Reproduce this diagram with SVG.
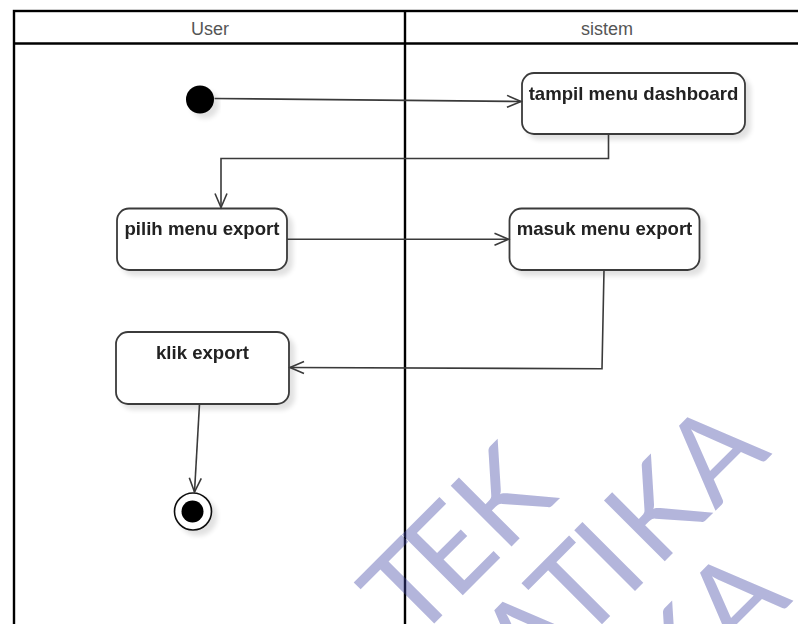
<svg xmlns="http://www.w3.org/2000/svg" width="798" height="624" viewBox="0 0 798 624">
  <defs>
    <style>
      .lane { fill: none; stroke: #000; stroke-width: 2.4; }
      .lane-title { font-family: "Liberation Sans", Arial, sans-serif; font-size: 18px; fill: #555; text-anchor: middle; }
      .action rect { fill: #fff; stroke: #3a3a3a; stroke-width: 1.8; }
      .action text { font-family: "Liberation Sans", Arial, sans-serif; font-size: 18.6px; font-weight: bold; fill: #222; text-anchor: middle; }
      .flow { fill: none; stroke: #3a3a3a; stroke-width: 1.6; marker-end: url(#open-arrow); }
      .mark { font-family: Lato, "Liberation Sans", sans-serif; font-size: 120px; fill: #4146a5; fill-opacity: 0.4; text-anchor: middle; }
    </style>
    <marker id="open-arrow" markerUnits="userSpaceOnUse" markerWidth="18" markerHeight="16" refX="15" refY="8" orient="auto">
      <path d="M1,2 L15,8 L1,14" fill="none" stroke="#3a3a3a" stroke-width="1.6"/>
    </marker>
    <filter id="shadow" x="-15%" y="-15%" width="140%" height="150%">
      <feGaussianBlur in="SourceAlpha" stdDeviation="2.5"/>
      <feOffset dx="5" dy="5" result="off"/>
      <feComponentTransfer><feFuncA type="linear" slope="0.12"/></feComponentTransfer>
      <feMerge><feMergeNode/><feMergeNode in="SourceGraphic"/></feMerge>
    </filter>
  </defs>

  <rect width="798" height="624" fill="#fff"/>

  <!-- swimlanes -->
  <g id="lanes">
    <rect class="lane" x="14" y="11" width="900" height="700"/>
    <line class="lane" x1="14" y1="43.5" x2="900" y2="43.5"/>
    <line class="lane" x1="405" y1="11" x2="405" y2="700"/>
    <text class="lane-title" x="210" y="35">User</text>
    <text class="lane-title" x="607" y="35">sistem</text>
  </g>

  <!-- start -->
  <g id="start" filter="url(#shadow)">
    <circle cx="200" cy="99.5" r="14" fill="#000"/>
  </g>

  <g id="tampil-menu-dashboard" class="action" filter="url(#shadow)">
    <rect x="522" y="73" width="223" height="61" rx="12"/>
    <text x="633.5" y="99.5">tampil menu dashboard</text>
  </g>

  <g id="pilih-menu-export" class="action" filter="url(#shadow)">
    <rect x="117" y="208.5" width="170" height="61.5" rx="12"/>
    <text x="202" y="235">pilih menu export</text>
  </g>

  <g id="masuk-menu-export" class="action" filter="url(#shadow)">
    <rect x="509.5" y="208.5" width="190" height="61.5" rx="12"/>
    <text x="604.5" y="235">masuk menu export</text>
  </g>

  <g id="klik-export" class="action" filter="url(#shadow)">
    <rect x="116" y="332" width="173" height="72" rx="12"/>
    <text x="202.5" y="358.5">klik export</text>
  </g>

  <!-- end -->
  <g id="end" filter="url(#shadow)">
    <circle cx="193" cy="511.5" r="18.5" fill="#fff" stroke="#111" stroke-width="1.6"/>
    <circle cx="192.5" cy="511.5" r="11" fill="#000"/>
  </g>

  <!-- control flows -->
  <g id="connectors">
    <path class="flow" d="M214.5,98.5 L521,101.5"/>
    <path class="flow" d="M608.5,134 V158.5 H221 V207.5"/>
    <path class="flow" d="M287,239.3 H508.5"/>
    <path class="flow" d="M604,270 L602,368.8 L290,367.5"/>
    <path class="flow" d="M199.5,404 L194.5,492"/>
  </g>

  <!-- watermark -->
  <g id="watermark" transform="rotate(-45)">
    <text class="mark" x="-128 -70 4" y="748">TEK</text>
    <text class="mark" x="-76 -10 37 102 185" y="867">ATIKA</text>
    <text class="mark" x="13 96" y="986">KA</text>
  </g>
</svg>
